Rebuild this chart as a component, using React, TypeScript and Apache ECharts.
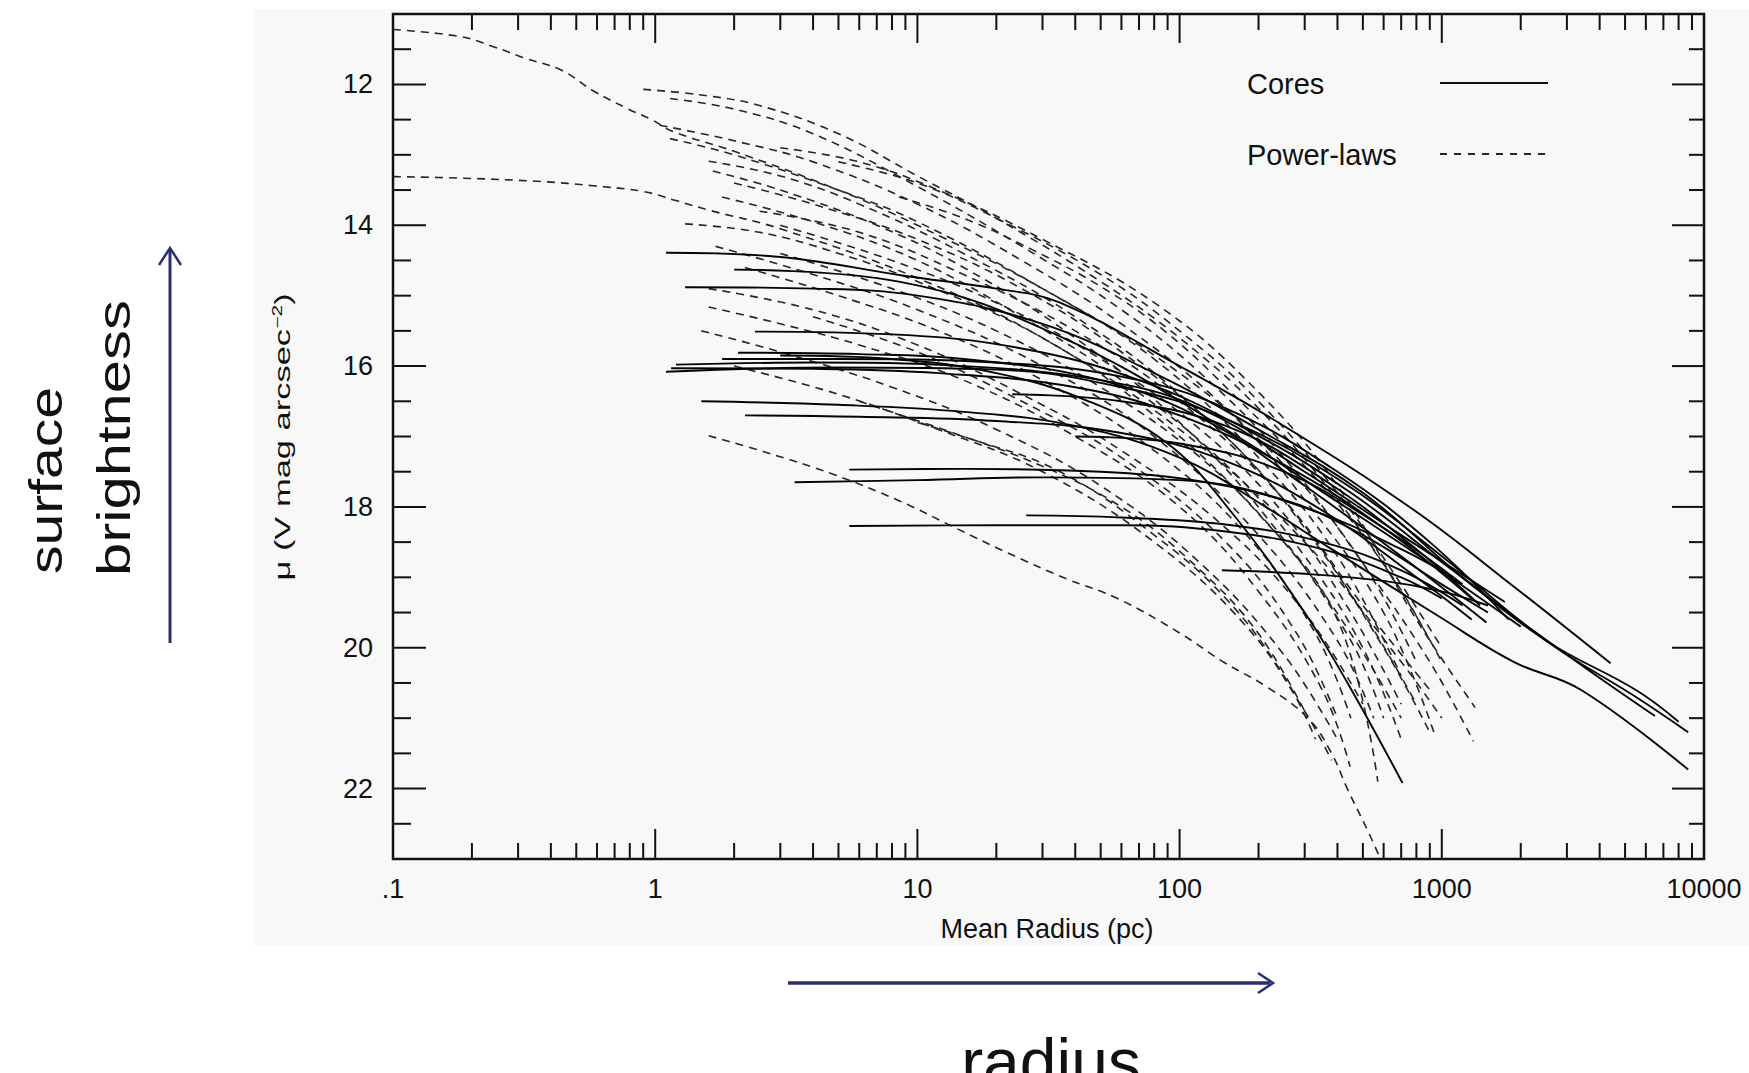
import React, { useEffect, useRef } from "react";
import * as echarts from "echarts";

type Pt = [number, number];

const FONT = '"Liberation Sans", Arial, Helvetica, sans-serif';

// ---- Core galaxies (solid lines): [radius pc, mu] ----
const core01: Pt[] = [[1.1, 14.39], [3, 14.45], [9, 14.72], [20, 14.9], [35, 15.1], [100, 16.0], [250, 16.85], [780, 18.04], [1880, 19.13], [4400, 20.22]];
const core02: Pt[] = [[1.3, 14.88], [4, 14.9], [10, 15.0], [30, 15.4], [80, 16.1], [200, 16.9], [500, 17.8], [1200, 19.0], [3000, 20.1], [6500, 20.97]];
const core03: Pt[] = [[1.1, 16.08], [5, 16.02], [20, 16.05], [60, 16.3], [150, 16.75], [400, 17.6], [1000, 18.7], [2500, 19.9], [5500, 20.7], [8700, 21.2]];
const core04: Pt[] = [[1.5, 16.5], [5, 16.55], [15, 16.65], [40, 16.85], [100, 17.3], [213, 18.0], [380, 18.6], [980, 19.56], [1880, 20.2], [3400, 20.6], [8700, 21.73]];
const core05: Pt[] = [[1.2, 15.98], [4, 15.95], [15, 16.0], [50, 16.2], [120, 16.6], [300, 17.5], [700, 18.4], [1740, 19.35]];
const core06: Pt[] = [[2.07, 15.81], [6, 15.83], [15, 15.9], [50, 16.2], [130, 16.8], [300, 17.7], [700, 18.7], [1480, 19.64]];
const core07: Pt[] = [[3, 15.85], [8, 15.9], [20, 16.1], [45, 16.5], [90, 17.1], [155, 18.04], [295, 19.46], [437, 20.5], [708, 21.92]];
const core08: Pt[] = [[2.2, 16.7], [6, 16.72], [20, 16.78], [60, 16.95], [150, 17.35], [350, 18.05], [800, 19.0], [1300, 19.6]];
const core09: Pt[] = [[3.4, 17.65], [10, 17.62], [30, 17.58], [100, 17.62], [250, 17.9], [500, 18.4], [1000, 19.1], [1500, 19.5]];
const core10: Pt[] = [[5.5, 17.47], [15, 17.46], [50, 17.5], [150, 17.7], [350, 18.1], [700, 18.6], [1100, 19.0]];
const core11: Pt[] = [[5.5, 18.27], [20, 18.26], [60, 18.26], [150, 18.35], [350, 18.6], [700, 19.0], [1000, 19.3]];
const core12: Pt[] = [[26, 18.12], [60, 18.15], [150, 18.25], [350, 18.5], [700, 18.9], [1200, 19.4]];
const core13: Pt[] = [[145, 18.9], [300, 18.95], [600, 19.05], [1000, 19.2], [1500, 19.4]];
const core14: Pt[] = [[2.0, 14.63], [8.5, 14.8], [37, 15.62], [158, 16.95], [390, 17.9], [900, 18.8], [2000, 19.7]];
const core15: Pt[] = [[2.4, 15.51], [8, 15.55], [25, 15.75], [70, 16.2], [180, 16.9], [450, 17.8], [1100, 18.9], [2500, 19.9], [5500, 20.6], [8000, 21.05]];
const core16: Pt[] = [[1.15, 16.03], [4, 16.04], [12, 16.1], [40, 16.3], [100, 16.7], [250, 17.4], [600, 18.3], [1300, 19.3]];
const core17: Pt[] = [[1.8, 15.9], [5, 15.9], [20, 15.95], [60, 16.15], [150, 16.6], [400, 17.5], [900, 18.5], [1800, 19.6]];
const core18: Pt[] = [[23, 16.4], [60, 16.5], [150, 16.85], [350, 17.6], [800, 18.6], [1400, 19.4]];
const core19: Pt[] = [[40, 17.0], [100, 17.1], [250, 17.5], [600, 18.3], [1200, 19.1]];

const coreProfiles: Pt[][] = [core01, core02, core03, core04, core05, core06, core07, core08, core09, core10, core11, core12, core13, core14, core15, core16, core17, core18, core19];

// ---- Power-law galaxies (dashed lines) ----
const pl01: Pt[] = [[0.1, 11.22], [0.18, 11.32], [0.24, 11.46], [0.32, 11.63], [0.44, 11.8], [0.58, 12.09], [0.78, 12.34], [0.98, 12.51], [1.17, 12.67], [2, 12.95], [5, 13.5], [10, 14.0], [30, 14.9], [100, 16.1], [250, 17.4], [500, 18.8], [800, 20.2]];
const pl02: Pt[] = [[0.1, 13.31], [0.18, 13.33], [0.37, 13.38], [0.58, 13.44], [0.9, 13.52], [1.2, 13.65], [1.62, 13.79], [3, 14.05], [10, 14.75], [30, 15.6], [100, 16.9], [300, 18.5], [700, 20.2], [1000, 21.0]];
const pl03: Pt[] = [[1.6, 16.99], [2.67, 17.23], [4.8, 17.54], [8.6, 17.92], [14, 18.3], [22, 18.65], [37, 19.02], [58, 19.3], [100, 19.79], [148, 20.21], [214, 20.55], [309, 21.0], [380, 21.5], [436, 22.0], [525, 22.62], [600, 23.1]];
const pl04: Pt[] = [[0.9, 12.07], [1.5, 12.15], [2.5, 12.3], [5, 12.7], [10, 13.3], [20, 13.9], [50, 14.8], [100, 15.6], [200, 16.6], [400, 17.9], [700, 19.2], [1000, 20.2]];
const pl05: Pt[] = [[1.14, 12.2], [2, 12.35], [4, 12.7], [10, 13.45], [25, 14.3], [60, 15.2], [120, 16.1], [250, 17.3], [500, 18.8], [900, 20.2], [1320, 21.33]];
const pl06: Pt[] = [[1.04, 12.58], [2, 12.8], [4, 13.1], [10, 13.7], [25, 14.5], [60, 15.4], [150, 16.6], [300, 17.9], [600, 19.5], [935, 21.21]];
const pl07: Pt[] = [[1.14, 12.77], [2, 13.0], [5, 13.5], [10, 13.95], [30, 14.9], [80, 15.9], [200, 17.3], [400, 18.7], [700, 20.4]];
const pl08: Pt[] = [[1.6, 13.09], [3, 13.3], [6, 13.7], [15, 14.4], [40, 15.3], [100, 16.4], [250, 17.9], [500, 19.5], [800, 20.8]];
const pl09: Pt[] = [[1.66, 13.23], [3, 13.5], [7, 14.0], [15, 14.6], [40, 15.6], [100, 16.8], [220, 18.2], [450, 19.9], [600, 21.0]];
const pl10: Pt[] = [[1.3, 13.98], [2.5, 14.1], [5, 14.4], [10, 14.8], [30, 15.6], [80, 16.7], [200, 18.1], [400, 19.6], [570, 21.9]];
const pl11: Pt[] = [[1.6, 15.16], [3, 15.4], [6, 15.7], [15, 16.2], [40, 17.0], [100, 18.0], [200, 19.2], [350, 20.6], [447, 21.69]];
const pl12: Pt[] = [[2, 13.4], [4, 13.7], [10, 14.2], [25, 14.9], [60, 15.8], [150, 17.0], [300, 18.3], [600, 20.0], [900, 21.2]];
const pl13: Pt[] = [[1.8, 13.6], [4, 13.95], [10, 14.5], [25, 15.3], [60, 16.2], [150, 17.4], [300, 18.7], [500, 20.0], [700, 21.3]];
const pl14: Pt[] = [[1.7, 14.3], [4, 14.7], [10, 15.2], [30, 16.0], [80, 17.0], [200, 18.4], [400, 19.9], [550, 21.0]];
const pl15: Pt[] = [[2.2, 14.6], [5, 15.0], [12, 15.5], [30, 16.2], [80, 17.2], [180, 18.4], [330, 19.8], [450, 21.0]];
const pl16: Pt[] = [[1.5, 15.5], [3, 15.8], [8, 16.3], [20, 16.9], [50, 17.7], [120, 18.8], [250, 20.1], [400, 21.3]];
const pl17: Pt[] = [[2, 16.0], [5, 16.4], [12, 16.9], [30, 17.5], [80, 18.5], [180, 19.7], [300, 20.9], [380, 21.6]];
const pl18: Pt[] = [[3, 12.9], [6, 13.1], [12, 13.5], [30, 14.2], [80, 15.1], [180, 16.2], [400, 17.7], [800, 19.6], [1340, 20.85]];
const pl19: Pt[] = [[5, 13.1], [10, 13.4], [20, 13.9], [50, 14.7], [100, 15.5], [200, 16.5], [400, 17.8], [700, 19.1], [1000, 20.0]];
const pl20: Pt[] = [[8.5, 13.6], [15, 13.9], [27.5, 14.35], [50, 14.87], [89, 15.52], [160, 16.4], [350, 17.7], [650, 19.0], [900, 19.9]];
const pl21: Pt[] = [[2.5, 13.8], [6, 14.1], [15, 14.7], [40, 15.5], [100, 16.5], [250, 17.9], [500, 19.4], [900, 20.6]];
const pl22: Pt[] = [[3, 14.4], [8, 14.9], [20, 15.5], [50, 16.3], [120, 17.3], [250, 18.5], [450, 19.8], [700, 21.0]];
const pl23: Pt[] = [[1.6, 14.9], [4, 15.2], [10, 15.7], [25, 16.4], [60, 17.2], [150, 18.3], [300, 19.5], [500, 20.8]];
const pl24: Pt[] = [[4, 15.3], [10, 15.8], [25, 16.5], [60, 17.3], [150, 18.5], [280, 19.8], [400, 21.0]];
const pl25: Pt[] = [[6, 16.5], [15, 17.0], [35, 17.5], [80, 18.4], [150, 19.3], [250, 20.4], [330, 21.3]];
const pl26: Pt[] = [[10, 16.8], [25, 17.3], [60, 18.0], [120, 18.9], [200, 19.8], [300, 20.9]];
const pl27: Pt[] = [[3, 14.0], [8, 14.5], [20, 15.1], [50, 15.9], [120, 16.9], [250, 18.1], [450, 19.5], [700, 20.8]];

const powerLawProfiles: Pt[][] = [pl01, pl02, pl03, pl04, pl05, pl06, pl07, pl08, pl09, pl10, pl11, pl12, pl13, pl14, pl15, pl16, pl17, pl18, pl19, pl20, pl21, pl22, pl23, pl24, pl25, pl26, pl27];

// ---- Axes ----
const xDecades = [0.1, 1, 10, 100, 1000, 10000];
const xTickLabels = [".1", "1", "10", "100", "1000", "10000"];
const xMinorMultipliers = [2, 3, 4, 5, 6, 7, 8, 9];
const yMajorTicks = [12, 14, 16, 18, 20, 22];
const yMinorTicks = [11.5, 12.5, 13, 13.5, 14.5, 15, 15.5, 16.5, 17, 17.5, 18.5, 19, 19.5, 20.5, 21, 21.5, 22.5];
const Y_MIN = 11;
const Y_MAX = 23;

const INK = "#111111";
const NAVY = "#2b2f6e";

export default function App() {
  const ref = useRef<HTMLDivElement>(null);

  useEffect(() => {
    document.body.style.margin = "0";
    if (!ref.current) return;
    const chart = echarts.init(ref.current, undefined, { renderer: "svg" });

    const xTickData: number[][] = [];
    xDecades.forEach((d) => xTickData.push([d, 17, 1]));
    xDecades.slice(0, -1).forEach((d) =>
      xMinorMultipliers.forEach((m) => xTickData.push([d * m, 17, 0]))
    );
    const yTickData: number[][] = [];
    yMajorTicks.forEach((v) => yTickData.push([1, v, 1]));
    yMinorTicks.forEach((v) => yTickData.push([1, v, 0]));

    const tickStyle = { stroke: INK, lineWidth: 2 };

    const series: any[] = [];
    powerLawProfiles.forEach((pts) =>
      series.push({
        type: "line",
        data: pts,
        symbol: "none",
        smooth: 0.4,
        silent: true,
        lineStyle: { color: "#262626", width: 1.6, type: [8, 6] },
        z: 3,
      })
    );
    coreProfiles.forEach((pts) =>
      series.push({
        type: "line",
        data: pts,
        symbol: "none",
        smooth: 0.4,
        silent: true,
        lineStyle: { color: "#050505", width: 1.9, type: "solid" },
        z: 4,
      })
    );
    series.push({
      type: "custom",
      silent: true,
      data: xTickData,
      encode: { x: 0, y: 1 },
      z: 5,
      renderItem: (params: any, api: any) => {
        const cs = params.coordSys;
        const px = api.coord([api.value(0), 17])[0];
        const major = api.value(2) === 1;
        const top = cs.y;
        const bottom = cs.y + cs.height;
        const lb = major ? 30 : 16;
        const lt = major ? 29 : 16;
        return {
          type: "group",
          children: [
            { type: "line", shape: { x1: px, y1: bottom, x2: px, y2: bottom - lb }, style: tickStyle },
            { type: "line", shape: { x1: px, y1: top, x2: px, y2: top + lt }, style: tickStyle },
          ],
        };
      },
    });
    series.push({
      type: "custom",
      silent: true,
      data: yTickData,
      encode: { x: 0, y: 1 },
      z: 5,
      renderItem: (params: any, api: any) => {
        const cs = params.coordSys;
        const py = api.coord([1, api.value(1)])[1];
        const major = api.value(2) === 1;
        const left = cs.x;
        const right = cs.x + cs.width;
        const ll = major ? 33 : 18;
        const lr = major ? 32 : 15;
        return {
          type: "group",
          children: [
            { type: "line", shape: { x1: left, y1: py, x2: left + ll, y2: py }, style: tickStyle },
            { type: "line", shape: { x1: right, y1: py, x2: right - lr, y2: py }, style: tickStyle },
          ],
        };
      },
    });

    const option: any = {
      animation: false,
      backgroundColor: "#ffffff",
      grid: {
        left: 393,
        top: 14,
        width: 1311,
        height: 845,
        show: true,
        borderColor: INK,
        borderWidth: 2.5,
        backgroundColor: "transparent",
        z: 6,
      },
      xAxis: {
        type: "log",
        logBase: 10,
        min: 0.1,
        max: 10000,
        axisLine: { show: false },
        axisTick: { show: false },
        minorTick: { show: false },
        splitLine: { show: false },
        axisLabel: {
          margin: 16,
          fontSize: 27,
          fontFamily: FONT,
          color: INK,
          formatter: (v: number) => {
            const idx = Math.round(Math.log10(v)) + 1;
            return xTickLabels[idx] ?? "";
          },
        },
      },
      yAxis: {
        type: "value",
        inverse: true,
        min: Y_MIN,
        max: Y_MAX,
        interval: 1,
        axisLine: { show: false },
        axisTick: { show: false },
        splitLine: { show: false },
        axisLabel: {
          margin: 20,
          fontSize: 27,
          fontFamily: FONT,
          color: INK,
          formatter: (v: number) => (yMajorTicks.indexOf(Math.round(v)) >= 0 && Math.abs(v - Math.round(v)) < 1e-6 ? String(Math.round(v)) : ""),
        },
      },
      series,
      graphic: [
        {
          type: "rect",
          z: -100,
          silent: true,
          shape: { x: 254, y: 9, width: 1495, height: 937 },
          style: { fill: "#f8f8f8" },
        },
        // legend
        {
          type: "text",
          z: 50,
          x: 1247,
          y: 84,
          style: { text: "Cores", fontSize: 29, fontFamily: FONT, fill: INK, align: "left", verticalAlign: "middle", textAlign: "left", textVerticalAlign: "middle" },
        },
        {
          type: "line",
          z: 50,
          shape: { x1: 1440, y1: 83, x2: 1548, y2: 83 },
          style: { stroke: INK, lineWidth: 2.2 },
        },
        {
          type: "text",
          z: 50,
          x: 1247,
          y: 155,
          style: { text: "Power-laws", fontSize: 29, fontFamily: FONT, fill: INK, align: "left", verticalAlign: "middle", textAlign: "left", textVerticalAlign: "middle" },
        },
        {
          type: "line",
          z: 50,
          shape: { x1: 1440, y1: 154, x2: 1548, y2: 154 },
          style: { stroke: "#262626", lineWidth: 1.8, lineDash: [7, 7] },
        },
        // axis names
        {
          type: "text",
          z: 50,
          x: 1047,
          y: 929,
          style: { text: "Mean Radius (pc)", fontSize: 27, fontFamily: FONT, fill: INK, align: "center", verticalAlign: "middle", textAlign: "center", textVerticalAlign: "middle" },
        },
        {
          type: "text",
          z: 50,
          x: 282,
          y: 437,
          rotation: Math.PI / 2,
          scaleX: 1.5,
          style: {
            text: "{m|μ (V mag arcsec}{s|−2}{m|)}",
            rich: {
              m: { fontSize: 23, fontFamily: FONT, fill: INK },
              s: { fontSize: 14, fontFamily: FONT, fill: INK, verticalAlign: "top" },
            },
            align: "center",
            verticalAlign: "middle",
            textAlign: "center",
            textVerticalAlign: "middle",
          },
        },
        // annotations
        {
          type: "text",
          z: 50,
          x: 46,
          y: 574,
          rotation: Math.PI / 2,
          scaleX: 1.24,
          style: { text: "surface", fontSize: 46, fontFamily: FONT, fill: INK, align: "left", verticalAlign: "middle", textAlign: "left", textVerticalAlign: "middle" },
        },
        {
          type: "text",
          z: 50,
          x: 114,
          y: 576,
          rotation: Math.PI / 2,
          scaleX: 1.3,
          style: { text: "brightness", fontSize: 46, fontFamily: FONT, fill: INK, align: "left", verticalAlign: "middle", textAlign: "left", textVerticalAlign: "middle" },
        },
        {
          type: "line",
          z: 50,
          shape: { x1: 170, y1: 643, x2: 170, y2: 250 },
          style: { stroke: NAVY, lineWidth: 3 },
        },
        {
          type: "polyline",
          z: 50,
          shape: { points: [[159, 265], [170, 248], [181, 265]] },
          style: { stroke: NAVY, lineWidth: 2.5, fill: "none" },
        },
        {
          type: "line",
          z: 50,
          shape: { x1: 788, y1: 983, x2: 1270, y2: 983 },
          style: { stroke: NAVY, lineWidth: 3.5 },
        },
        {
          type: "polyline",
          z: 50,
          shape: { points: [[1258, 973], [1273, 983], [1258, 993]] },
          style: { stroke: NAVY, lineWidth: 2.5, fill: "none" },
        },
        {
          type: "text",
          z: 50,
          x: 1051,
          y: 1062,
          style: { text: "radius", fontSize: 66, fontFamily: FONT, fill: INK, align: "center", verticalAlign: "middle", textAlign: "center", textVerticalAlign: "middle" },
        },
      ],
    };

    chart.setOption(option);
    return () => {
      chart.dispose();
    };
  }, []);

  return <div ref={ref} style={{ width: 1749, height: 1073 }} />;
}
